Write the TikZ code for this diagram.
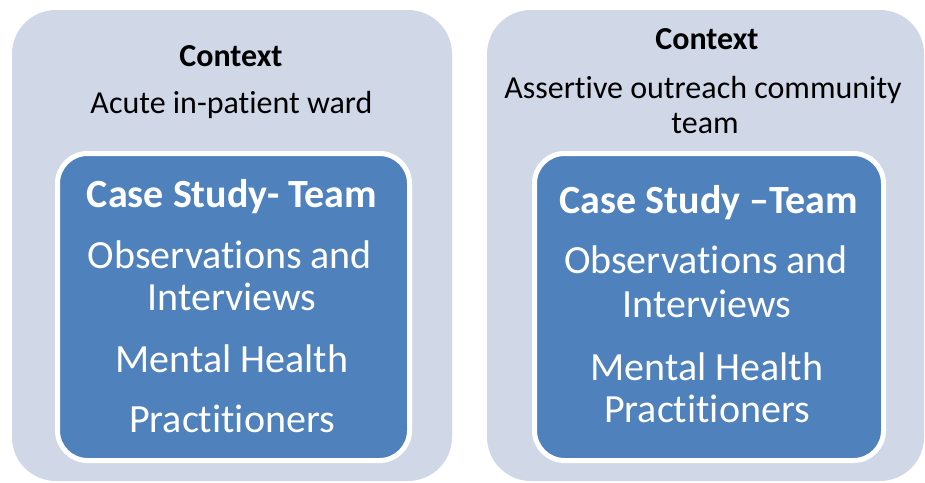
\documentclass[tikz,border=0pt]{standalone}
\usepackage{fontspec}
\setmainfont{Carlito}[Ligatures={NoCommon,NoContextual}, Contextuals={NoAlternate}]
\definecolor{outerfill}{RGB}{208,216,232}
\definecolor{innerfill}{RGB}{79,129,189}
\tikzset{
  outerbox/.style={rectangle, rounded corners=44pt, fill=outerfill, inner sep=0pt, minimum height=471pt},
  innerbox/.style={rectangle, rounded corners=30pt, fill=innerfill, draw=white, line width=5pt, inner sep=0pt, minimum height=307pt},
  ctxhead/.style={anchor=base, inner sep=0pt, font=\fontsize{32}{35}\selectfont\bfseries, text=black},
  ctxtext/.style={anchor=base, inner sep=0pt, font=\fontsize{32}{35}\selectfont, text=black},
  casehead/.style={anchor=base, inner sep=0pt, font=\fontsize{40}{43}\selectfont\bfseries, text=white},
  casetext/.style={anchor=base, inner sep=0pt, font=\fontsize{40}{43}\selectfont, text=white}
}
\begin{document}
\begin{tikzpicture}[x=1pt, y=-1pt]
\useasboundingbox (0,0) rectangle (925,482);
% left panel
\node[outerbox, minimum width=440pt] (outerL) at (232,245.5) {};
\node[innerbox, minimum width=352pt] (innerL) at (233.5,307) {};
\node[ctxhead] (ctxL) at (231,66) {Context};
\node[ctxtext] (ctxLa) at (231.5,113) {Acute in-patient ward};
\node[casehead] (caseL) at (232,207) {Case Study- Team};
\node[casetext] (obsL) at (230,268) {Observations and};
\node[casetext] (intL) at (232,310) {Interviews};
\node[casetext] (mhL) at (232,372) {Mental Health};
\node[casetext] (prL) at (232,432) {Practitioners};
% right panel
\node[outerbox, minimum width=437pt] (outerR) at (705.5,245.5) {};
\node[innerbox, minimum width=349pt] (innerR) at (709,307) {};
\node[ctxhead] (ctxR) at (707,49) {Context};
\node[ctxtext] (ctxRa) at (703,98) {Assertive outreach community};
\node[ctxtext] (ctxRb) at (705,133) {team};
\node[casehead] (caseR) at (709,213) {Case Study –Team};
\node[casetext] (obsR) at (706,273) {Observations and};
\node[casetext] (intR) at (707,317) {Interviews};
\node[casetext] (mhR) at (707,380) {Mental Health};
\node[casetext] (prR) at (707,422) {Practitioners};
\end{tikzpicture}
\end{document}
